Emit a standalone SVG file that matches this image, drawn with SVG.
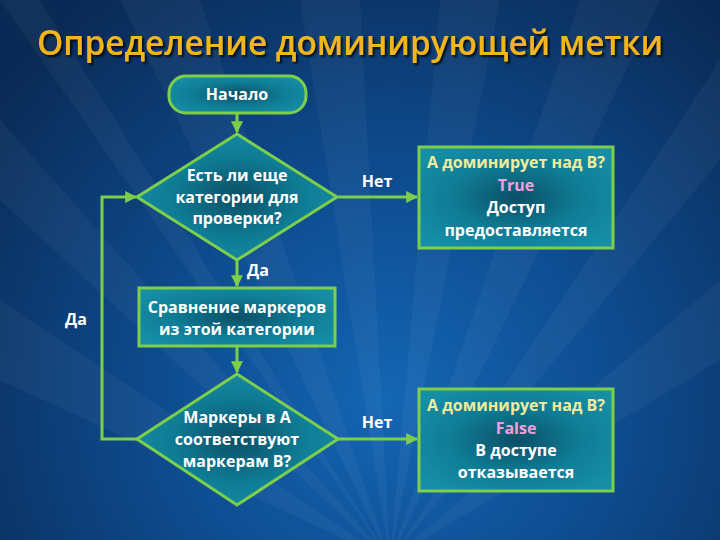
<svg xmlns="http://www.w3.org/2000/svg" width="720" height="540" viewBox="0 0 720 540">
  <defs>
    <radialGradient id="bg" cx="390" cy="400" r="500" gradientUnits="userSpaceOnUse">
      <stop offset="0" stop-color="#1466b4"/>
      <stop offset="0.45" stop-color="#0e4c90"/>
      <stop offset="1" stop-color="#0a2a55"/>
    </radialGradient>
    <radialGradient id="nodeFill" cx="0.5" cy="0.5" r="0.6">
      <stop offset="0" stop-color="#0b4f66"/>
      <stop offset="0.55" stop-color="#0f7c95"/>
      <stop offset="1" stop-color="#168ea6"/>
    </radialGradient>
    <filter id="shadow" x="-5%" y="-20%" width="110%" height="150%">
      <feDropShadow dx="2" dy="2" stdDeviation="1.2" flood-color="#000000" flood-opacity="0.8"/>
    </filter>
    <marker id="arrow" viewBox="0 0 10 10" refX="9" refY="5" markerWidth="4" markerHeight="4" orient="auto" markerUnits="strokeWidth">
      <path d="M0,0 L10,5 L0,10 z" fill="#7dcf4b"/>
    </marker>
  </defs>
  <style>
    .node { fill: url(#nodeFill); stroke: #7dcf4b; stroke-width: 3; }
    .conn { fill: none; stroke: #7dcf4b; stroke-width: 3; }
    .t { font-family: "Open Sans", "Noto Sans", "DejaVu Sans", sans-serif; font-weight: 700; font-size: 16px; fill: #ffffff; text-anchor: middle; }
    .y { fill: #f3eb9a; }
    .p { fill: #f0a0dc; }
    .title { font-family: "Open Sans", "Noto Sans", "DejaVu Sans", sans-serif; font-weight: 600; font-size: 34px; fill: #f2b51f; text-anchor: middle; }
  </style>

  <rect x="0" y="0" width="720" height="540" fill="url(#bg)"/>
  <g fill="#ffffff" opacity="0.035">
    <polygon points="390,560 120,0 200,0"/>
    <polygon points="390,560 300,0 360,0"/>
    <polygon points="390,560 440,0 500,0"/>
    <polygon points="390,560 580,0 660,0"/>
    <polygon points="390,560 720,60 720,160"/>
    <polygon points="390,560 720,280 720,360"/>
    <polygon points="390,560 0,120 0,200"/>
    <polygon points="390,560 0,300 0,380"/>
    <polygon points="390,560 0,0 40,0"/>
  </g>

  <text class="title" x="350" y="55" textLength="626" lengthAdjust="spacingAndGlyphs" filter="url(#shadow)">Определение доминирующей метки</text>

  <g id="connectors">
    <path class="conn" d="M237,113 V132" marker-end="url(#arrow)"/>
    <path class="conn" d="M338,197 H417" marker-end="url(#arrow)"/>
    <path class="conn" d="M237,260 V286" marker-end="url(#arrow)"/>
    <path class="conn" d="M237,347 V372" marker-end="url(#arrow)"/>
    <path class="conn" d="M137,439 H102 V197 H136" marker-end="url(#arrow)"/>
    <path class="conn" d="M338,439 H417" marker-end="url(#arrow)"/>
    <text class="t" x="377" y="187">Нет</text>
    <text class="t" x="258" y="276">Да</text>
    <text class="t" x="76" y="325">Да</text>
    <text class="t" x="377" y="428">Нет</text>
  </g>

  <g id="start">
    <rect class="node" x="169" y="76" width="137" height="37" rx="17" ry="17"/>
    <text class="t" x="237" y="100">Начало</text>
  </g>

  <g id="decision1">
    <polygon class="node" points="237,134 337,197 237,260 137,197"/>
    <text class="t" x="237" y="181">Есть ли еще</text>
    <text class="t" x="237" y="203">категории для</text>
    <text class="t" x="237" y="224">проверки?</text>
  </g>

  <g id="resultTrue">
    <rect class="node" x="419" y="147" width="194" height="101"/>
    <text class="t y" x="516" y="168">А доминирует над В?</text>
    <text class="t p" x="516" y="191">True</text>
    <text class="t" x="516" y="213">Доступ</text>
    <text class="t" x="516" y="236">предоставляется</text>
  </g>

  <g id="compare">
    <rect class="node" x="139" y="288" width="196" height="58"/>
    <text class="t" x="237" y="313">Сравнение маркеров</text>
    <text class="t" x="237" y="335">из этой категории</text>
  </g>

  <g id="decision2">
    <polygon class="node" points="237,374 338,439 237,505 137,439"/>
    <text class="t" x="237" y="423">Маркеры в А</text>
    <text class="t" x="237" y="445">соответствуют</text>
    <text class="t" x="237" y="467">маркерам В?</text>
  </g>

  <g id="resultFalse">
    <rect class="node" x="419" y="389" width="194" height="102"/>
    <text class="t y" x="516" y="411">А доминирует над В?</text>
    <text class="t p" x="516" y="434">False</text>
    <text class="t" x="516" y="456">В доступе</text>
    <text class="t" x="516" y="478">отказывается</text>
  </g>
</svg>
